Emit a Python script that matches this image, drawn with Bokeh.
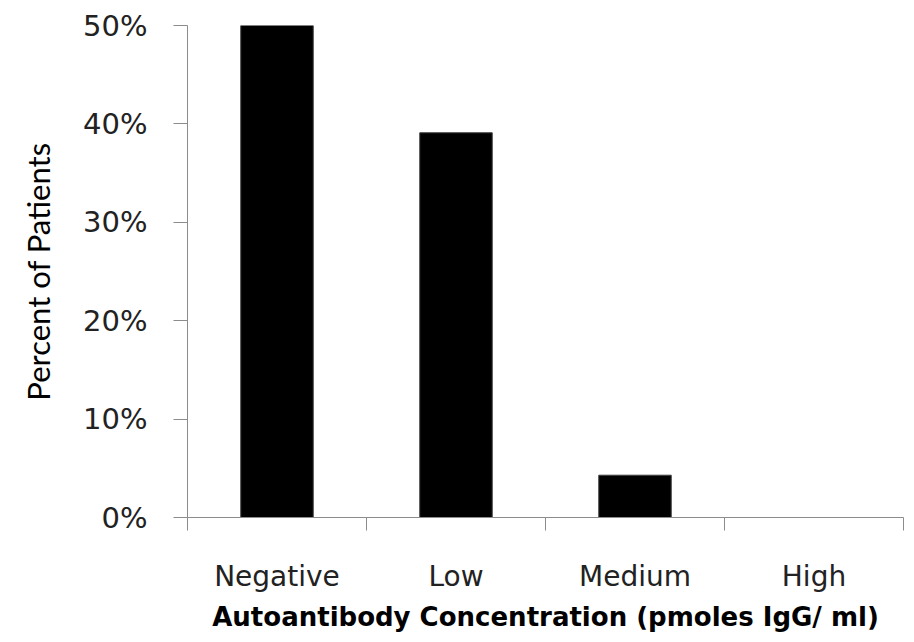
from bokeh.plotting import figure
from bokeh.models import FixedTicker, NumeralTickFormatter, Range1d, ColumnDataSource
from bokeh.embed import file_html
from bokeh.resources import INLINE

categories = ["Negative", "Low", "Medium", "High"]
percent_of_patients = [50.0, 39.1, 4.3, 0.0]
y_ticks = [0.0, 0.1, 0.2, 0.3, 0.4, 0.5]

x_pos = [i + 0.5 for i in range(len(categories))]
frac = [v / 100.0 for v in percent_of_patients]
src = ColumnDataSource(dict(x=x_pos, top=frac, cat=categories))

p = figure(width=907, height=642, output_backend="svg", toolbar_location=None,
           x_range=Range1d(0, len(categories)), y_range=Range1d(0, 0.5),
           min_border_left=187, min_border_right=4, min_border_top=25, min_border_bottom=125)
p.outline_line_color = None
p.xgrid.visible = False
p.ygrid.visible = False
p.background_fill_color = "white"
p.border_fill_color = "white"

p.vbar(x="x", top="top", bottom=0, width=0.405, source=src,
       fill_color="black", line_color="#404040", line_width=1)

axis_col = "#8c8c8c"
tick_font = "DejaVu Sans"
# x axis
xa = p.xaxis[0]
xa.ticker = FixedTicker(ticks=x_pos, minor_ticks=list(range(len(categories) + 1)))
xa.major_label_overrides = {x: c for x, c in zip(x_pos, categories)}
xa.major_tick_line_color = None
xa.major_tick_out = 0
xa.major_tick_in = 0
xa.minor_tick_line_color = axis_col
xa.minor_tick_in = 0
xa.minor_tick_out = 13
xa.axis_line_color = axis_col
xa.major_label_text_font = tick_font
xa.major_label_text_font_size = "28px"
xa.major_label_text_color = "#222222"
xa.major_label_standoff = 29
xa.axis_label = "Autoantibody Concentration (pmoles IgG/ ml)"
xa.axis_label_text_font = "DejaVu Sans"
xa.axis_label_text_font_style = "bold"
xa.axis_label_text_font_size = "26px"
xa.axis_label_text_color = "black"
xa.axis_label_standoff = 6

# y axis
ya = p.yaxis[0]
ya.ticker = FixedTicker(ticks=y_ticks)
ya.formatter = NumeralTickFormatter(format="0%")
ya.major_tick_out = 14
ya.major_tick_in = 0
ya.minor_tick_line_color = None
ya.major_tick_line_color = axis_col
ya.axis_line_color = axis_col
ya.major_label_text_font = tick_font
ya.major_label_text_font_size = "29px"
ya.major_label_text_color = "#222222"
ya.major_label_standoff = 26
ya.axis_label = "Percent of Patients"
ya.axis_label_text_font = "Lato"
ya.axis_label_text_font_style = "normal"
ya.axis_label_text_font_size = "31px"
ya.axis_label_text_color = "black"
ya.axis_label_standoff = 23

open("out.html", "w").write(file_html(p, INLINE))
